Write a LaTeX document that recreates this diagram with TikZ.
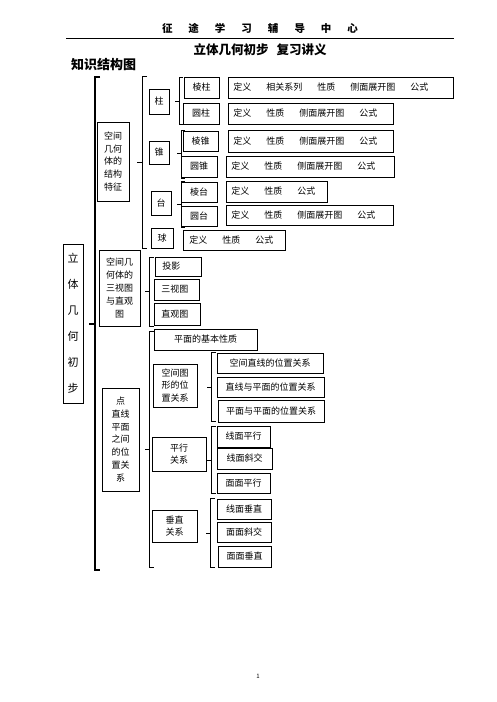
\documentclass[tikz,border=0pt]{standalone}
\usepackage{fontspec}
\setmainfont{Noto Sans CJK SC}
\begin{document}
\begin{tikzpicture}[
    x=1pt,y=-1pt,
    box/.style={draw,black,line width=.6pt,inner sep=0pt,align=center,font=\fontsize{9}{12.8}\selectfont},
    descbox/.style={box,anchor=west,align=left,inner xsep=5pt},
    brk/.style={black,line width=.9pt},
    mainbrk/.style={black,line width=1.3pt}
    ]
    \useasboundingbox (0,0) rectangle (496,702);
    % header
    \node[font=\fontsize{10.5}{12}\selectfont\bfseries] (head) at (260,28)
      {征\hspace{16pt}途\hspace{16pt}学\hspace{16pt}习\hspace{16pt}辅\hspace{16pt}导\hspace{16pt}中\hspace{16pt}心};
    \draw[line width=.7pt] (66,38) -- (454,38);
    \node[font=\fontsize{12.5}{14}\selectfont\bfseries] (title) at (260,50) {立体几何初步\hspace{8pt}复习讲义};
    \node[font=\fontsize{13}{14}\selectfont\bfseries,anchor=west,inner sep=0pt] (kst) at (71,65) {知识结构图};
    % root and level 2
    \node[box,minimum width=20,minimum height=159,font=\fontsize{11}{26}\selectfont] (root) at (73,323.5) {立\\体\\几\\何\\初\\步};
    \node[box,minimum width=32,minimum height=79] (jg) at (113,161.5) {空间\\几何\\体的\\结构\\特征};
    \node[box,minimum width=41,minimum height=76] (sst) at (119.5,288) {空间几\\何体的\\三视图\\与直观\\图};
    \node[box,minimum width=37,minimum height=103] (dxm) at (120.5,439.5) {点\\直线\\平面\\之间\\的位\\置关\\系};
    % solids
    \node[box,minimum width=20,minimum height=25] (zhu) at (159,101.5) {柱};
    \node[box,minimum width=20,minimum height=23] (zhui) at (159,152.5) {锥};
    \node[box,minimum width=20,minimum height=24] (tai) at (161,203) {台};
    \node[box,minimum width=22,minimum height=20] (qiu) at (162,238) {球};
    \node[box,minimum width=35,minimum height=21] (lengzhu) at (201.5,87.5) {棱柱};
    \node[box,minimum width=36,minimum height=21] (yuanzhu) at (201,113.5) {圆柱};
    \node[box,minimum width=35,minimum height=20] (lengzhui) at (200.5,141) {棱锥};
    \node[box,minimum width=36,minimum height=21] (yuanzhui) at (199,166.5) {圆锥};
    \node[box,minimum width=36,minimum height=20] (lengtai) at (199,192) {棱台};
    \node[box,minimum width=36,minimum height=20] (yuantai) at (199,216) {圆台};
    \node[descbox,text width=215,minimum height=21] (dlengzhu) at (228,87.5)
      {定义\hspace{15pt}相关系列\hspace{15pt}性质\hspace{15pt}侧面展开图\hspace{15pt}公式};
    \node[descbox,text width=155,minimum height=21] (dyuanzhu) at (228,113.5)
      {定义\hspace{15pt}性质\hspace{15pt}侧面展开图\hspace{15pt}公式};
    \node[descbox,text width=155,minimum height=22] (dlengzhui) at (228,141)
      {定义\hspace{15pt}性质\hspace{15pt}侧面展开图\hspace{15pt}公式};
    \node[descbox,text width=158,minimum height=21] (dyuanzhui) at (226,166.5)
      {定义\hspace{15pt}性质\hspace{15pt}侧面展开图\hspace{15pt}公式};
    \node[descbox,text width=91,minimum height=21] (dlengtai) at (226,191.5)
      {定义\hspace{15pt}性质\hspace{15pt}公式};
    \node[descbox,text width=157,minimum height=20] (dyuantai) at (226,215)
      {定义\hspace{15pt}性质\hspace{15pt}侧面展开图\hspace{15pt}公式};
    \node[descbox,text width=90,minimum height=20,inner xsep=6pt] (dqiu) at (183,240)
      {定义\hspace{15pt}性质\hspace{15pt}公式};
    % views
    \node[descbox,text width=32,minimum height=19,inner xsep=7pt] (touying) at (155,266.5) {投影};
    \node[descbox,text width=31,minimum height=21,inner xsep=7pt] (sanshi) at (154,289.5) {三视图};
    \node[descbox,text width=32,minimum height=22,inner xsep=7pt] (zhiguan) at (154,314) {直观图};
    % positions
    \node[box,minimum width=103,minimum height=21] (jbxz) at (205.5,339.5) {平面的基本性质};
    \node[box,minimum width=44,minimum height=43] (kjtx) at (175,385.5) {空间图\\形的位\\置关系};
    \node[box,minimum width=54,minimum height=34] (pxgx) at (179,454) {平行\\关系};
    \node[box,minimum width=45,minimum height=32] (czgx) at (174.5,526) {垂直\\关系};
    \node[box,minimum width=106,minimum height=20] (kjzx) at (270,363) {空间直线的位置关系};
    \node[box,minimum width=107,minimum height=20] (zxpm) at (270.5,387) {直线与平面的位置关系};
    \node[box,minimum width=106,minimum height=22] (pmpm) at (271,411) {平面与平面的位置关系};
    \node[box,minimum width=53,minimum height=21] (xmpx) at (243.5,436.5) {线面平行};
    \node[box,minimum width=55,minimum height=21] (xmxj) at (244.5,458.5) {线面斜交};
    \node[box,minimum width=53,minimum height=20] (mmpx) at (243.5,483) {面面平行};
    \node[box,minimum width=54,minimum height=20] (xmcz) at (244,509) {线面垂直};
    \node[box,minimum width=54,minimum height=20] (mmxj) at (244,532) {面面斜交};
    \node[box,minimum width=53,minimum height=21] (mmcz) at (244.5,556.5) {面面垂直};
    % brackets
    \draw[mainbrk] (100,77) -- (95,77) -- (95,570) -- (100,570);
    \draw[mainbrk] (89,324) -- (95,324);
    \draw[brk] (147,76) -- (142,76) -- (142,248) -- (147,248);
    \draw[brk] (137,162) -- (142,162);
    \draw[brk] (183,77) -- (179,77) -- (179,124) -- (183,124);
    \draw[brk] (175,101) -- (179,101);
    \draw[brk] (185,130) -- (181,130) -- (181,178) -- (185,178);
    \draw[brk] (177,153) -- (181,153);
    \draw[brk] (185,181) -- (181,181) -- (181,227) -- (185,227);
    \draw[brk] (177,204) -- (181,204);
    \draw[brk] (154,257) -- (149,257) -- (149,326) -- (154,326);
    \draw[brk] (145,291) -- (149,291);
    \draw[brk] (154,331) -- (149,331) -- (149,567) -- (154,567);
    \draw[brk] (145,449) -- (149,449);
    \draw[brk] (216,352) -- (211,352) -- (211,421) -- (216,421);
    \draw[brk] (207,387) -- (211,387);
    \draw[brk] (216,426) -- (211,426) -- (211,493) -- (216,493);
    \draw[brk] (207,460) -- (211,460);
    \draw[brk] (215,498) -- (210,498) -- (210,567) -- (215,567);
    \draw[brk] (206,533) -- (210,533);
    % page number
    \node[font=\fontsize{6}{7}\selectfont] (pg) at (258,676) {1};
\end{tikzpicture}
\end{document}
